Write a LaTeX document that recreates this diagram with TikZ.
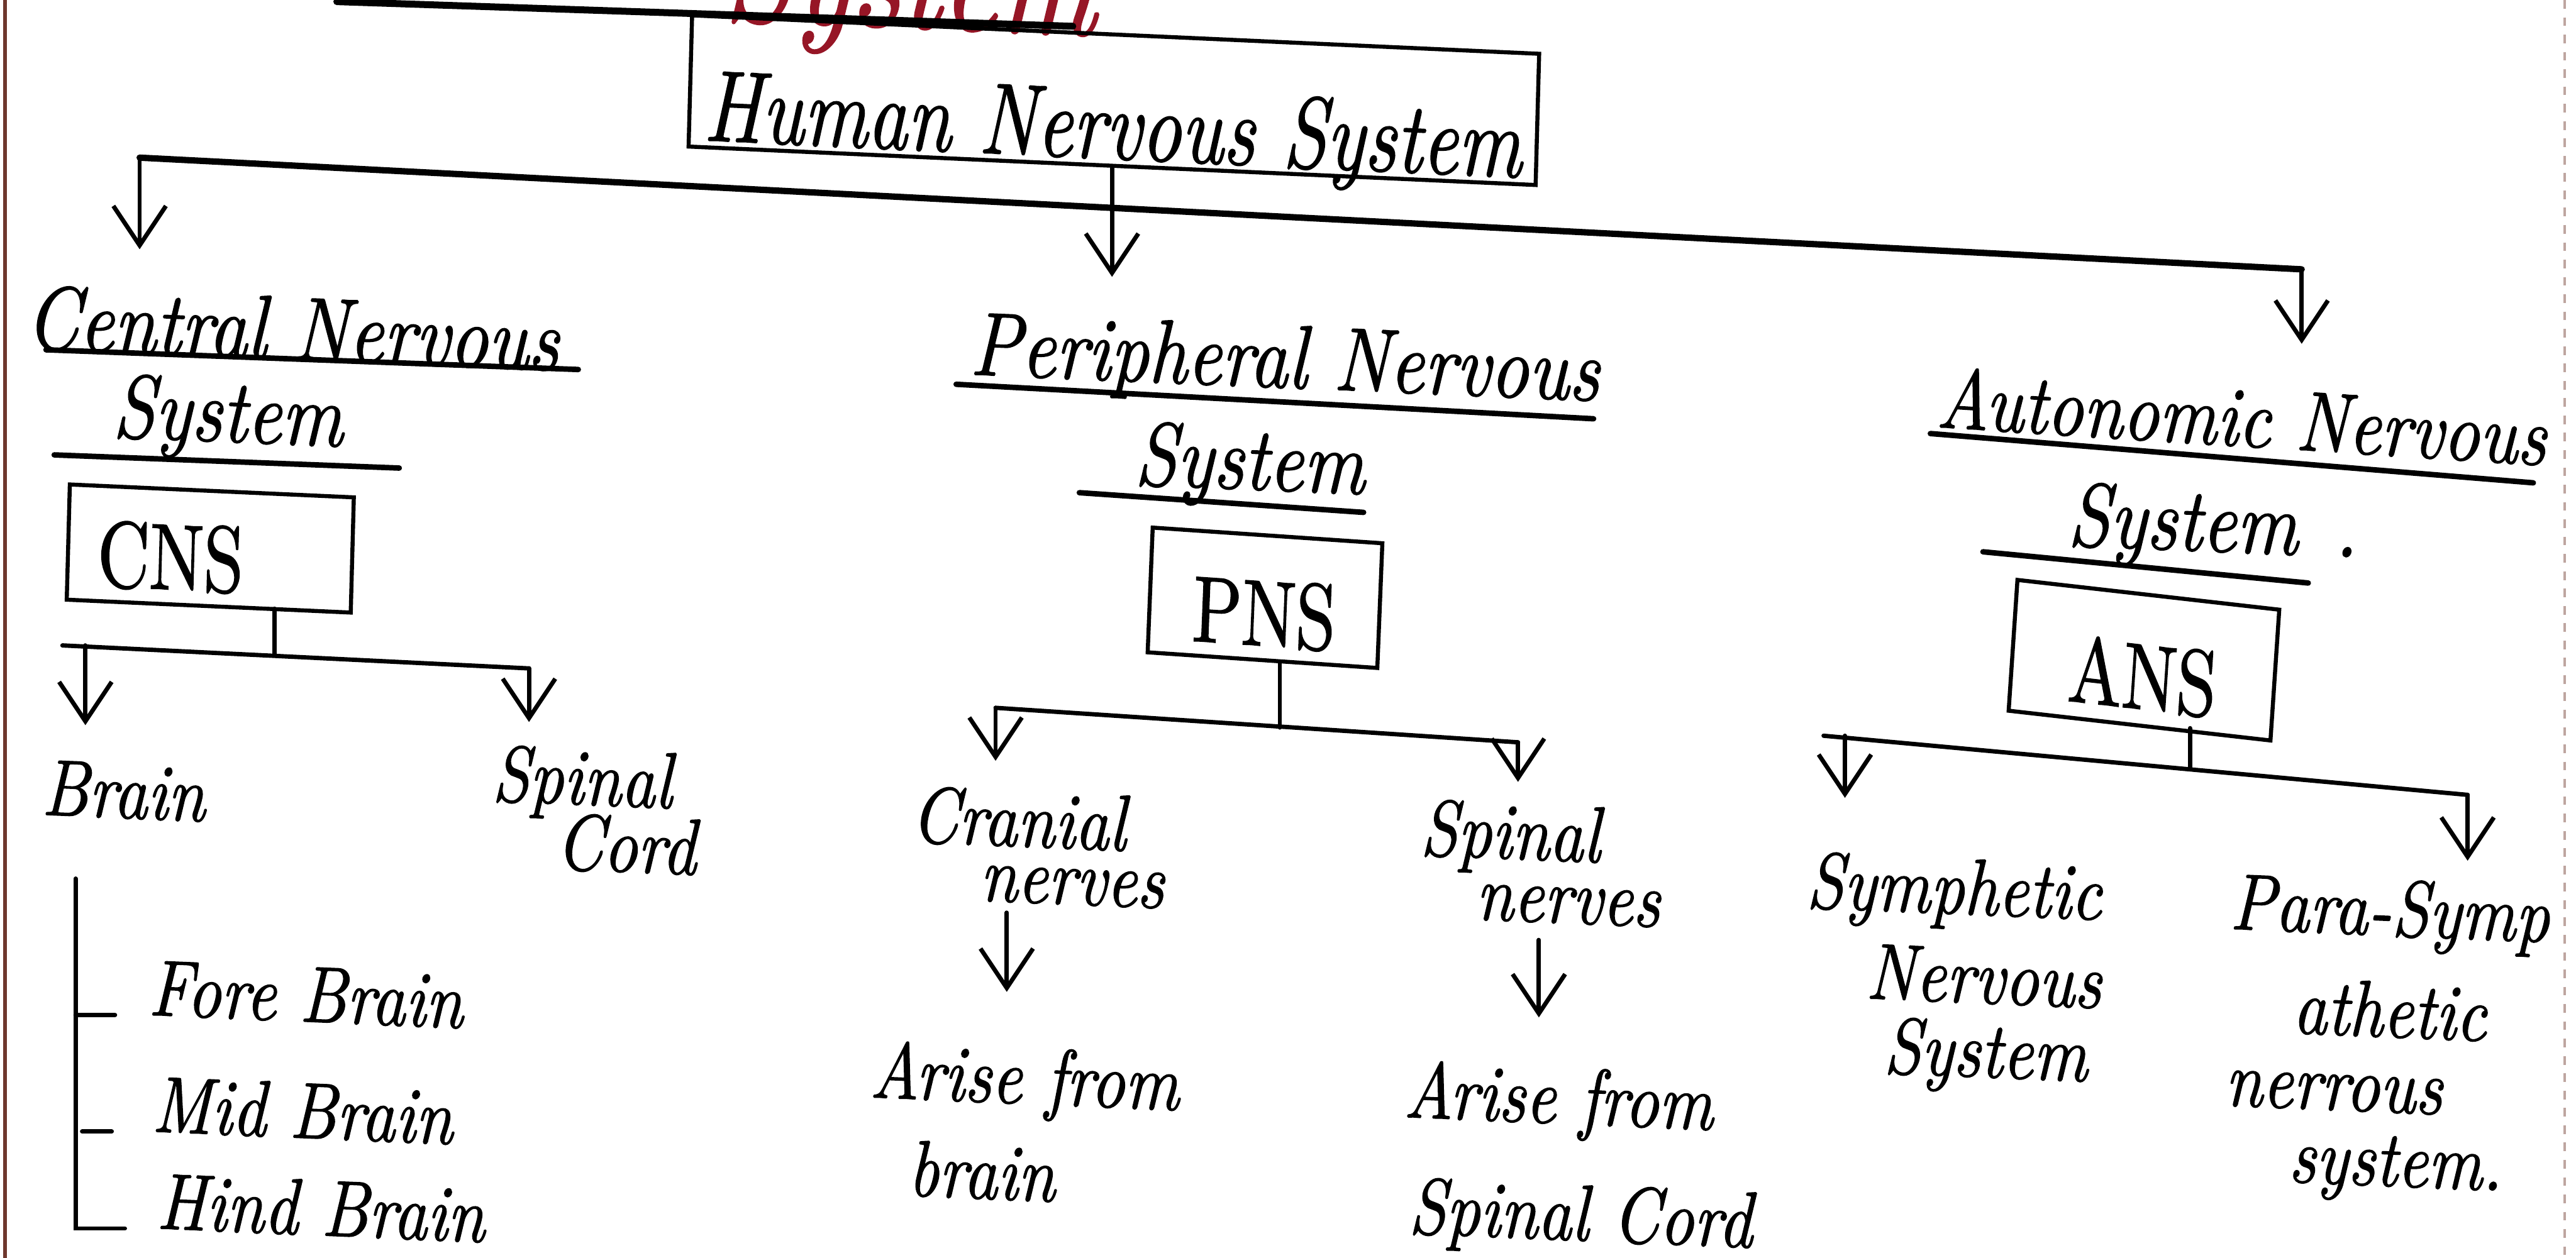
\documentclass[tikz,border=0pt]{standalone}
\usepackage{fontspec}
\usetikzlibrary{arrows.meta}

\newfontface\handit{lmroman10-italic.otf}[FakeBold=1.2]
\newfontface\handup{lmroman10-regular.otf}[FakeBold=1.2]
\definecolor{redink}{RGB}{150,22,38}
\definecolor{pageline}{RGB}{110,55,45}
\newcommand\tightlines{\lineskiplimit-40pt\relax}

\tikzset{
  hand/.style={font={\handit\fontsize{23}{15}\selectfont\tightlines}, inner sep=0pt, yscale=1.2, rotate=-2, align=left},
  head/.style={hand, font={\handit\fontsize{26}{18}\selectfont\tightlines}},
  sysbox/.style={draw, line width=1.4pt, inner sep=0pt, yscale=1.3, text depth=0pt, font={\handup\fontsize{25}{25}\selectfont}},
  lnk/.style={line width=1.5pt, line cap=round},
  trunk/.style={line width=2.2pt, line cap=round},
  uline/.style={line width=1.9pt, line cap=round},
  arr/.style={lnk, -{Straight Barb[length=0.48cm, width=0.64cm]}},
}

\begin{document}
\begin{tikzpicture}[x=0.02cm, y=-0.02cm]
  \useasboundingbox (0,0) rectangle (1568,766);
  \clip (0,0) rectangle (1568,766);
  \draw [pageline, line width=1.2pt] (3,0) -- (3,766);
  \draw [pageline!45, line width=0.8pt, dashed] (1561,0) -- (1561,766);

  \node [head, anchor=base west, font={\handit\fontsize{42}{42}\selectfont}, text=redink] (title) at (440,12) {System};
  \draw [uline, line width=2.4pt] (205,1) -- (653,16);

  \node [sysbox, rotate=-2, minimum width=10.32cm, minimum height=1.23cm, text height=1.1cm, font={\handit\fontsize{27}{27}\selectfont}] (hns) at (678,61) {Human Nervous System};

  \node [head, anchor=base west] (cnt1) at (15,212) {Central Nervous};
  \node [head, anchor=base west] (cnt2) at (68,266) {System};
  \node [head, anchor=base west] (pnt1) at (590,228) {Peripheral Nervous};
  \node [head, anchor=base west] (pnt2) at (690,295) {System};
  \node [head, anchor=base west, rotate=-1, font={\handit\fontsize{24.5}{18}\selectfont}] (ant1) at (1178,260) {Autonomic Nervous};
  \node [head, anchor=base west] (ant2) at (1258,332) {System\hspace{0.45cm}.};
  \draw [uline] (28,213) -- (352,225);
  \draw [uline] (33,277) -- (243,285);
  \draw [uline] (582,234) -- (970,255);
  \draw [uline] (657,300) -- (830,312);
  \draw [uline] (1175,264) -- (1542,294);
  \draw [uline] (1207,336) -- (1405,355);

  \node [sysbox, rotate=-2, align=left, text width=2.74cm, inner xsep=0.36cm, minimum height=1.08cm, text height=0.8cm] (cns) at (128,334) {CNS};
  \node [sysbox, rotate=-3, minimum width=2.8cm, minimum height=1.17cm, text height=0.9cm] (pns) at (770,364) {PNS};
  \node [sysbox, rotate=-5, minimum width=3.2cm, minimum height=1.23cm, text height=0.92cm] (ans) at (1305,402) {ANS};

  \node [hand, anchor=base west] (brain) at (25,496) {Brain};
  \node [hand, anchor=north west] (spc) at (300,453) {Spinal\\[3.9pt]\hspace*{0.8cm}Cord};
  \node [hand, anchor=base west] (fore) at (90,618) {Fore Brain};
  \node [hand, anchor=base west] (mid) at (92,689) {Mid Brain};
  \node [hand, anchor=base west] (hind) at (95,748) {Hind Brain};
  \node [hand, anchor=north west] (cran) at (555,478) {Cranial\\[1.1pt]\hspace*{0.86cm}nerves};
  \node [hand, anchor=north west] (spn) at (865,486) {Spinal\\[2.9pt]\hspace*{0.7cm}nerves};
  \node [hand, anchor=north west] (ar1) at (530,633) {Arise from\\[12.9pt]\hspace*{0.5cm}brain};
  \node [hand, anchor=north west] (ar2) at (855,645) {Arise from\\[18.5pt]\hspace*{0.1cm}Spinal Cord};
  \node [hand, anchor=north west] (sym) at (1100,518) {Symphetic\\[10.5pt]\hspace*{0.76cm}Nervous\\[6.3pt]\hspace*{1cm}System};
  \node [hand, anchor=north west] (para) at (1358,531) {Para-Symp\\[14.3pt]\hspace*{0.8cm}athetic\\[6.7pt]nerrous\\[6.3pt]\hspace*{0.8cm}system.};

  \coordinate (hnsL) at (85,96);
  \coordinate (hnsR) at (1401,164);
  \path [draw, trunk] (hnsL) edge (hnsR);
  \draw [arr, shorten >=0.56cm] (hnsL) -- (hnsL |- cnt1.north);
  \draw [arr, shorten >=0.58cm] (hns.south) -- (hns.south |- pnt1.north);
  \draw [arr, shorten >=0.5cm] (hnsR) -- (hnsR |- ant1.north);

  \coordinate (cnsL) at (38,393);
  \coordinate (cnsR) at (322,407);
  \coordinate (cnsM) at (167,399);
  \path [draw, lnk] (cnsL) edge (cnsR);
  \path [draw, lnk] (cns.south -| cnsM) edge (cnsM);
  \draw [arr, shorten >=0.46cm] ([xshift=0.28cm]cnsL) -- ([xshift=0.28cm]cnsL |- brain.north);
  \draw [arr, shorten >=0.32cm] (cnsR) -- (cnsR |- spc.north);

  \coordinate (brk) at (46,535);
  \path [draw, lnk, shorten >=0.38cm] (brk) |- (hind.base west);
  \path [draw, lnk, shorten >=0.4cm] (brk |- fore.base west) edge (fore.base west);
  \path [draw, lnk, shorten >=0.48cm] ([xshift=0.08cm]brk |- mid.base west) edge (mid.base west);

  \coordinate (pnsL) at (606,431);
  \coordinate (pnsR) at (924,452);
  \coordinate (pnsM) at (779,443);
  \path [draw, lnk] (pnsL) edge (pnsR);
  \path [draw, lnk] (pns.south -| pnsM) edge (pnsM);
  \draw [arr, shorten >=0.36cm] (pnsL) -- (pnsL |- cran.north);
  \draw [arr, shorten >=0.26cm] (pnsR) -- (pnsR |- spn.north);
  \draw [arr, shorten <=0.1cm, shorten >=0.66cm] ([xshift=-0.36cm]cran.south) -- ([xshift=-0.36cm]cran.south |- ar1.north);
  \draw [arr, shorten <=0.2cm, shorten >=0.6cm] (spn.south) -- (spn.south |- ar2.north);

  \coordinate (ansL) at (1110,448);
  \coordinate (ansR) at (1502,484);
  \coordinate (ansM) at (1333,467);
  \path [draw, lnk] (ansL) edge (ansR);
  \path [draw, lnk] (ans.south -| ansM) edge (ansM);
  \draw [arr, shorten >=0.72cm] ([xshift=0.26cm]ansL) -- ([xshift=0.26cm]ansL |- sym.north);
  \draw [arr, shorten >=0.22cm] (ansR) -- (ansR |- para.north);
\end{tikzpicture}
\end{document}
